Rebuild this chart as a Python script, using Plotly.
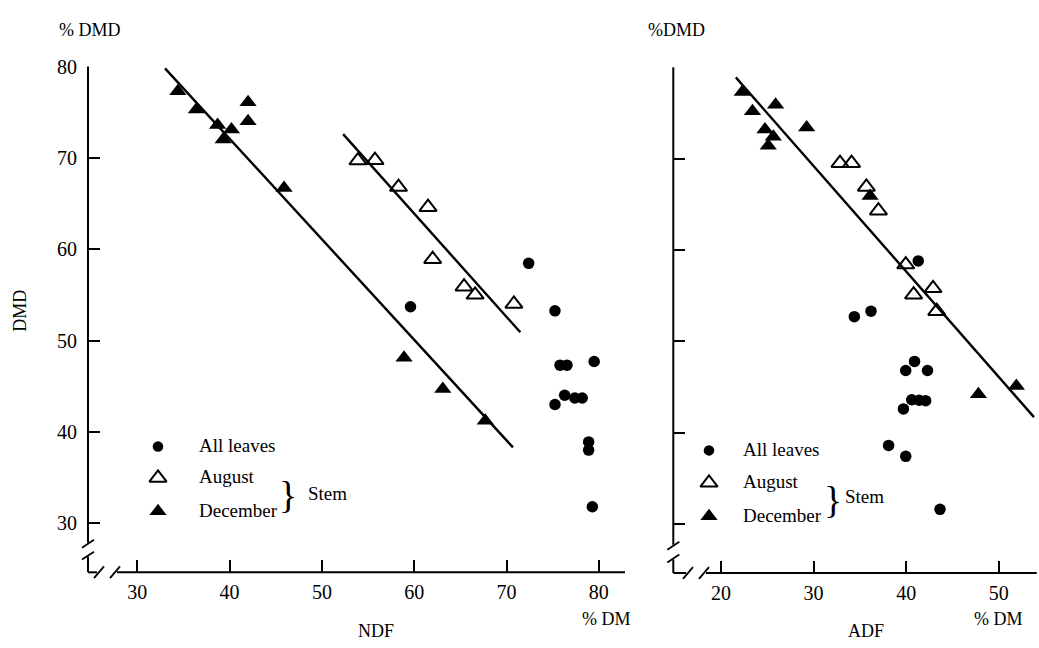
import plotly.graph_objects as go

W, H = 1039, 648
FONT = "Liberation Serif"

# ---------------- data ----------------
# Left panel: DMD vs NDF
ndf_leaves = [59.6, 72.4, 75.25, 75.8, 76.55, 79.5, 76.3, 77.4, 78.2, 75.25, 78.9, 78.9, 79.3]
dmd_leaves_ndf = [53.7, 58.45, 53.25, 47.3, 47.3, 47.7, 44.0, 43.7, 43.7, 43.0, 38.9, 38.0, 31.8]
ndf_aug = [53.9, 55.75, 58.3, 61.5, 62.0, 65.4, 66.6, 70.8]
dmd_aug_ndf = [69.7, 69.75, 66.8, 64.6, 58.9, 55.9, 55.0, 54.0]
ndf_dec = [34.4, 36.4, 38.7, 40.2, 39.3, 42.0, 42.0, 45.9, 58.9, 63.1, 67.7]
dmd_dec_ndf = [77.3, 75.3, 73.6, 73.1, 72.0, 76.1, 74.0, 66.7, 48.1, 44.7, 41.2]
ndf_fit_dec = [33.0, 70.7]
dmd_fit_dec = [79.8, 38.3]
ndf_fit_aug = [52.3, 71.5]
dmd_fit_aug = [72.6, 50.9]

# Right panel: DMD vs ADF
adf_leaves = [41.3, 34.4, 36.2, 40.9, 39.95, 42.3, 40.6, 41.4, 42.1, 39.7, 38.1, 39.95, 43.65]
dmd_leaves_adf = [58.8, 52.7, 53.3, 47.8, 46.8, 46.8, 43.6, 43.55, 43.5, 42.6, 38.6, 37.4, 31.6]
adf_aug = [32.85, 34.1, 35.7, 37.0, 39.95, 40.8, 42.9, 43.3]
dmd_aug_adf = [69.5, 69.5, 66.9, 64.3, 58.4, 55.1, 55.8, 53.3]
adf_dec = [22.3, 23.4, 25.9, 24.75, 25.65, 25.1, 29.25, 36.1, 47.8, 51.9]
dmd_dec_adf = [77.3, 75.2, 75.9, 73.2, 72.4, 71.4, 73.4, 65.9, 44.2, 45.1]
adf_fit = [21.6, 53.8]
dmd_fit_adf = [78.9, 41.7]

ndf_ticks = [30, 40, 50, 60, 70, 80]
adf_ticks = [20, 30, 40, 50]
dmd_ticks = [30, 40, 50, 60, 70, 80]
legend_labels = ["All leaves", "August", "December"]

# ---------------- layout geometry (pixels) ----------------
L_CORNER = (88.0, 571.0)
L_XEND = 625.0
L_X30, L_XS = 137.3, 9.23       # px of x=30, px per unit
L_Y80, L_YS = 56.5, 9.29        # px of y=80, px per unit
R_CORNER = (673.3, 571.7)
R_XEND = 1036.7
R_X20, R_XS = 721.0, 9.26
R_Y80, R_YS = 57.3, 9.29


def px2paper_x(px):
    return px / W


def px2paper_y(py):
    return 1 - py / H


l_xrange = [30 + (L_CORNER[0] - L_X30) / L_XS, 30 + (L_XEND - L_X30) / L_XS]
l_yrange = [80 - (L_CORNER[1] - L_Y80) / L_YS, 80]
r_xrange = [20 + (R_CORNER[0] - R_X20) / R_XS, 20 + (R_XEND - R_X20) / R_XS]
r_yrange = [80 - (R_CORNER[1] - R_Y80) / R_YS, 80]

fig = go.Figure()

BLACK = "black"
DOT = dict(symbol="circle", size=11.5, color=BLACK)
OPEN = dict(symbol="triangle-up-open", size=15, color=BLACK, line=dict(width=2, color=BLACK))
FILL = dict(symbol="triangle-up", size=15, color=BLACK, line=dict(width=0))
LINE = dict(color=BLACK, width=2.4)

# left panel traces
fig.add_trace(go.Scatter(x=ndf_fit_dec, y=dmd_fit_dec, mode="lines", line=LINE, xaxis="x", yaxis="y"))
fig.add_trace(go.Scatter(x=ndf_fit_aug, y=dmd_fit_aug, mode="lines", line=LINE, xaxis="x", yaxis="y"))
fig.add_trace(go.Scatter(x=ndf_leaves, y=dmd_leaves_ndf, mode="markers", marker=DOT, xaxis="x", yaxis="y"))
fig.add_trace(go.Scatter(x=ndf_aug, y=dmd_aug_ndf, mode="markers", marker=OPEN, xaxis="x", yaxis="y"))
fig.add_trace(go.Scatter(x=ndf_dec, y=dmd_dec_ndf, mode="markers", marker=FILL, xaxis="x", yaxis="y"))

# right panel traces
fig.add_trace(go.Scatter(x=adf_fit, y=dmd_fit_adf, mode="lines", line=LINE, xaxis="x2", yaxis="y2"))
fig.add_trace(go.Scatter(x=adf_leaves, y=dmd_leaves_adf, mode="markers", marker=DOT, xaxis="x2", yaxis="y2"))
fig.add_trace(go.Scatter(x=adf_aug, y=dmd_aug_adf, mode="markers", marker=OPEN, xaxis="x2", yaxis="y2"))
fig.add_trace(go.Scatter(x=adf_dec, y=dmd_dec_adf, mode="markers", marker=FILL, xaxis="x2", yaxis="y2"))

# legend keys on a full-page pixel axis
key_x_left, key_x_right = 158, 709
key_y_left = [443, 475, 509]
key_y_right = [447, 480, 514]
for kx, kys in ((key_x_left, key_y_left), (key_x_right, key_y_right)):
    for mk, ky in zip((DOT, OPEN, FILL), kys):
        m = dict(mk)
        if mk is DOT:
            m["size"] = 10.5
        fig.add_trace(go.Scatter(x=[kx], y=[ky], mode="markers", marker=m, xaxis="x3", yaxis="y3",
                                 cliponaxis=False))

tickfont = dict(family=FONT, size=20, color=BLACK)
common = dict(showgrid=False, zeroline=False, showline=False, ticks="inside",
              ticklen=12, tickwidth=2, tickcolor=BLACK, tickfont=tickfont)

fig.update_layout(
    width=W, height=H, margin=dict(l=0, r=0, t=0, b=0),
    paper_bgcolor="white", plot_bgcolor="rgba(0,0,0,0)", showlegend=False,
    xaxis=dict(domain=[px2paper_x(L_CORNER[0]), px2paper_x(L_XEND)], range=l_xrange,
               tickvals=ndf_ticks, ticklabelstandoff=6, anchor="y", **common),
    yaxis=dict(domain=[px2paper_y(L_CORNER[1]), px2paper_y(L_Y80)], range=l_yrange,
               tickvals=dmd_ticks, ticklabelstandoff=10, anchor="x", **common),
    xaxis2=dict(domain=[px2paper_x(R_CORNER[0]), px2paper_x(R_XEND)], range=r_xrange,
                tickvals=adf_ticks, ticklabelstandoff=6, anchor="y2", **common),
    yaxis2=dict(domain=[px2paper_y(R_CORNER[1]), px2paper_y(R_Y80)], range=r_yrange,
                tickvals=dmd_ticks, showticklabels=False, anchor="x2", **common),
    xaxis3=dict(domain=[0, 1], range=[0, W], visible=False, anchor="y3"),
    yaxis3=dict(domain=[0, 1], range=[H, 0], visible=False, anchor="x3"),
)

# ---------------- axis lines with breaks ----------------
shapes = []


def seg(x0, y0, x1, y1, w=2):
    shapes.append(dict(type="line", xref="paper", yref="paper",
                       x0=px2paper_x(x0), y0=px2paper_y(y0), x1=px2paper_x(x1), y1=px2paper_y(y1),
                       line=dict(color=BLACK, width=w)))


def axes_with_break(corner, ytop, xend, ybreak, xbreak):
    cx, cy = corner
    seg(cx, ytop, cx, ybreak[0])
    seg(cx, ybreak[1], cx, cy)
    for yb in (ybreak[0] + 1, ybreak[1] - 1):
        seg(cx - 6, yb + 4, cx + 6, yb - 4, 1.8)
    seg(cx, cy, xbreak[0], cy)
    seg(xbreak[1], cy, xend, cy)
    for xb in (xbreak[0] + 2, xbreak[1] - 2):
        seg(xb - 5, cy + 6, xb + 5, cy - 6, 1.8)


axes_with_break(L_CORNER, L_Y80, L_XEND, (541, 555), (97, 117))
axes_with_break(R_CORNER, R_Y80, R_XEND, (543, 558), (686, 706))
fig.update_layout(shapes=shapes)

# ---------------- text ----------------
ann = []


def text(px, py, s, size=19, xanchor="center", angle=0):
    ann.append(dict(x=px2paper_x(px), y=px2paper_y(py), xref="paper", yref="paper", text=s,
                    showarrow=False, xanchor=xanchor, yanchor="middle", textangle=angle,
                    font=dict(family=FONT, size=size, color=BLACK)))


text(90, 19, "% DMD", 18)
text(676, 19, "%DMD", 18)
text(20, 305, "DMD", 18, angle=-90)
text(376, 631, "NDF", 18)
text(606, 619, "% DM", 18)
text(866, 631, "ADF", 18)
text(998, 619, "% DM", 18)

for lbl, ky in zip(legend_labels, key_y_left):
    text(197, ky - 1, lbl, 19, xanchor="left")
for lbl, ky in zip(legend_labels, key_y_right):
    text(741, ky - 1, lbl, 19, xanchor="left")
text(288, 492, "}", 38)
text(306, 491, "Stem", 19, xanchor="left")
text(833, 497, "}", 38)
text(843, 494, "Stem", 19, xanchor="left")

fig.update_layout(annotations=ann)

fig.write_html("out.html", config={"displayModeBar": False},
               post_script="document.body.style.margin='0';document.body.style.overflow='hidden';")
